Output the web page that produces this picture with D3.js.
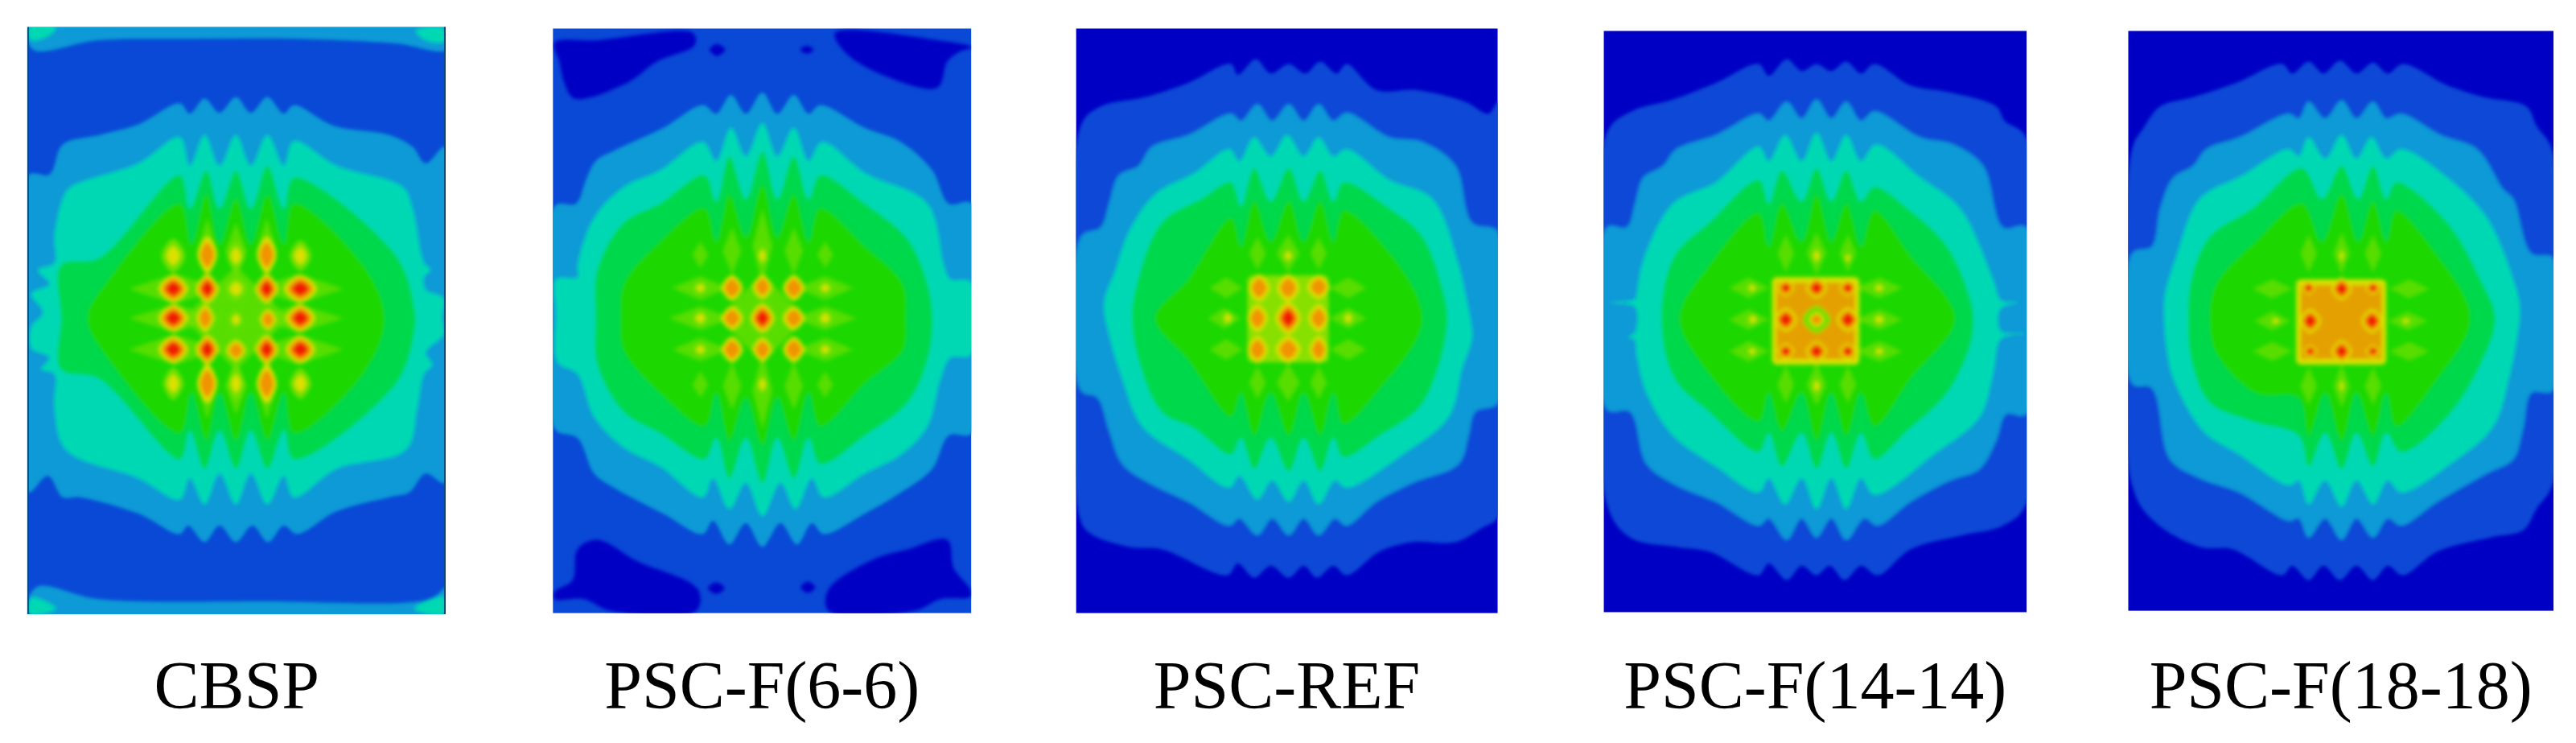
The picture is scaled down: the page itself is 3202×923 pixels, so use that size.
<!DOCTYPE html>
<html>
<head>
<meta charset="utf-8">
<script src="https://cdn.jsdelivr.net/npm/d3@7"></script>
<style>
  body { margin: 0; background: #fff; }
  text { font-family: "Liberation Serif", serif; font-size: 84px; fill: #000; }
</style>
</head>
<body>
<div id="chart"></div>
<script>
const labels = ["CBSP", "PSC-F(6-6)", "PSC-REF", "PSC-F(14-14)", "PSC-F(18-18)"];
const cropLeft = [0, 640, 1280, 1940, 2562];
const frames = [[85, 57, 1350, 1297], [115, 60, 1383, 1295], [140, 60, 1418, 1295], [130, 65, 1412, 1293], [203, 65, 1492, 1290]];
const baseBand = ["blue", "blue", "deep", "deep", "deep"];

const bandColors = { deep: "#0000c4", blue: "#0a48d6", light: "#0a9ad6", teal: "#00d8b4", spring: "#00d84c", green: "#1cd800" };
const spotColors = ["#72e000", "#dce000", "#f09400", "#f01e00"];

// CBSP
const cbspLight = [[85,370],[150,368],[190,305],[300,285],[420,262],[545,218],[575,240],[620,208],[665,238],[715,205],[760,238],[810,205],[860,240],[890,222],[1010,265],[1180,285],[1250,310],[1290,345],[1350,310],[1350,1020],[1290,1000],[1240,1040],[1180,1050],[1020,1080],[900,1128],[860,1110],[812,1145],[765,1110],[715,1145],[665,1110],[620,1145],[570,1110],[545,1128],[420,1085],[240,1050],[190,1050],[145,1005],[85,1040]];
const cbspTeal = [[165,500],[190,420],[215,395],[420,345],[545,290],[575,350],[620,285],[665,350],[715,285],[760,350],[810,285],[860,350],[890,298],[1020,350],[1220,395],[1250,440],[1285,555],[1305,570],[1285,585],[1290,612],[1345,630],[1340,670],[1345,705],[1290,745],[1310,770],[1285,790],[1265,860],[1230,950],[1020,990],[890,1050],[860,1005],[810,1065],[760,1000],[715,1065],[665,1000],[620,1065],[575,1010],[545,1055],[420,1010],[200,950],[165,860],[165,790],[125,780],[150,755],[95,735],[95,690],[130,660],[95,620],[150,600],[115,570],[165,555]];
const cbspSpring = [[185,672],[185,560],[300,545],[545,370],[575,440],[625,360],[665,440],[715,360],[760,440],[810,350],[860,440],[890,375],[1200,540],[1255,650],[1255,700],[1200,810],[890,970],[860,910],[810,990],[760,910],[715,990],[665,910],[620,990],[575,910],[545,970],[300,800],[185,780]];
const cbspGreen = [[265,672],[330,590],[545,430],[580,515],[625,410],[665,515],[715,420],[760,515],[810,410],[860,515],[890,430],[1100,560],[1165,672],[1100,790],[890,915],[860,830],[810,930],[760,830],[715,930],[665,830],[625,930],[580,830],[545,915],[330,760]];
const cbspPatches = [
  ["light", [[85,57],[1355,57],[1355,105],[1200,92],[900,82],[600,82],[300,85],[100,105]]],
  ["light", [[85,1297],[1355,1297],[1355,1240],[1300,1265],[800,1270],[300,1265],[110,1240]]],
  ["teal", [[85,57],[170,57],[150,75],[95,85]]],
  ["teal", [[1260,65],[1345,60],[1345,88],[1290,85]]],
  ["teal", [[95,1262],[170,1285],[90,1297]]],
  ["teal", [[1255,1285],[1345,1260],[1345,1297]]]
];
const cbspLenses = [[530,610,140,32],[530,672,140,30],[530,738,140,32],[905,610,135,32],[905,672,135,30],[905,738,135,32],[628,530,30,70],[715,530,32,60],[808,530,30,70],[628,815,30,70],[715,815,32,60],[808,815,30,70],[715,672,160,110]];
const cbspSpots = [[525,540,42,42,2],[628,538,35,45,3],[715,540,32,36,2],[808,538,35,45,3],[910,540,38,38,2],[525,610,52,34,4],[628,610,40,36,4],[715,610,38,30,2],[808,610,40,36,4],[910,610,58,34,4],[525,672,52,34,4],[622,672,30,34,3],[715,675,25,22,2],[812,675,28,26,3],[910,672,52,34,4],[525,738,52,34,4],[628,738,40,36,4],[715,740,34,26,3],[808,738,40,36,4],[910,738,52,34,4],[525,810,36,40,2],[628,810,36,48,3],[715,810,30,40,2],[808,810,36,48,3],[910,810,38,38,2]];

// PSC-F(6-6)
const f6Light = [[120,435],[185,430],[215,380],[245,340],[310,315],[450,270],[570,222],[610,240],[655,200],[700,240],[750,195],[795,240],[845,200],[890,240],[925,222],[1060,270],[1170,300],[1265,360],[1315,430],[1385,430],[1385,915],[1315,920],[1265,990],[1170,1040],[1060,1085],[935,1128],[900,1105],[855,1150],[805,1105],[750,1155],[700,1105],[650,1150],[600,1100],[570,1128],[450,1085],[300,1030],[240,1000],[190,925],[120,905]];
const f6Teal = [[125,590],[190,585],[190,560],[240,460],[330,395],[440,360],[570,300],[610,340],[655,270],[700,330],[750,260],[795,330],[845,270],[890,340],[930,300],[1060,365],[1250,430],[1300,560],[1320,590],[1380,595],[1380,750],[1320,755],[1290,800],[1250,900],[1170,960],[1060,1000],[935,1050],[900,1010],[850,1075],[805,1020],[750,1090],[700,1020],[650,1075],[600,1010],[570,1050],[440,985],[330,945],[240,880],[190,790],[130,765],[125,660]];
const f6Spring = [[245,672],[250,570],[330,470],[440,430],[575,370],[610,425],[650,330],[700,420],[750,320],[795,420],[845,330],[890,420],[925,370],[1060,430],[1190,505],[1250,600],[1265,672],[1250,760],[1190,850],[1060,920],[925,980],[890,925],[845,1010],[795,925],[750,1020],[700,925],[650,1010],[610,925],[575,970],[440,915],[330,870],[250,770]];
const f6Green = [[320,672],[330,600],[440,510],[575,440],[610,510],[650,410],[700,500],[750,390],[795,500],[845,410],[890,510],[925,440],[1060,520],[1175,600],[1185,672],[1175,740],[1060,810],[925,900],[890,830],[845,930],[795,840],[750,940],[700,840],[650,930],[610,830],[575,900],[440,830],[330,740]];
const f6Patches = [
  ["deep", [[120,90],[250,85],[540,70],[545,95],[430,130],[340,175],[180,208],[150,175],[135,130]]],
  ["deep", [[970,70],[1280,85],[1385,100],[1345,110],[1310,130],[1280,185],[1120,160],[1000,110]]],
  ["deep", [[590,105],[612,93],[637,105],[612,118]]],
  ["deep", [[865,105],[885,97],[905,105],[885,113]]],
  ["deep", [[120,1250],[175,1225],[190,1160],[250,1140],[370,1185],[555,1245],[550,1290],[290,1290],[210,1265],[120,1265]]],
  ["deep", [[950,1245],[1090,1180],[1190,1160],[1310,1140],[1330,1200],[1380,1245],[1380,1260],[1290,1265],[1210,1290],[950,1290]]],
  ["deep", [[585,1242],[610,1230],[635,1242],[610,1254]]],
  ["deep", [[866,1240],[888,1228],[910,1240],[888,1252]]]
];
const f6Lenses = [[562,608,85,25],[562,672,95,25],[562,738,85,25],[940,608,85,25],[940,672,95,25],[940,738,85,25],[562,538,24,28],[658,530,28,50],[750,520,30,80],[845,530,28,50],[940,538,24,28],[562,812,24,28],[658,815,28,50],[750,825,30,80],[845,815,28,50],[940,812,24,28],[750,672,130,95]];
const f6Spots = [[750,540,20,25,2],[562,608,26,16,2],[658,608,38,32,3],[750,606,34,30,3],[845,608,38,32,3],[940,608,26,16,2],[562,672,28,20,2],[658,672,38,30,3],[750,672,42,36,4],[845,672,38,30,3],[940,672,28,20,2],[562,738,26,16,2],[658,738,38,32,3],[750,738,34,30,3],[845,738,38,32,3],[940,738,26,16,2],[750,812,20,25,2]];

// PSC-REF
const refBlue = [[155,265],[215,225],[350,205],[480,175],[610,135],[630,158],[685,125],[730,155],[785,135],[835,155],[880,130],[930,155],[960,135],[1050,190],[1170,190],[1320,215],[1390,240],[1420,215],[1420,1090],[1370,1115],[1290,1145],[1160,1145],[1060,1165],[960,1215],[920,1195],[870,1220],[830,1195],[785,1220],[730,1195],[680,1220],[630,1190],[600,1215],[400,1160],[300,1155],[180,1125],[150,1090]];
const refLight = [[155,500],[215,480],[240,430],[270,370],[330,350],[370,310],[480,285],[610,240],[640,255],[690,220],[735,255],[785,220],[830,255],[875,220],[920,255],[960,238],[1090,290],[1190,300],[1290,350],[1340,470],[1420,490],[1420,850],[1350,870],[1330,920],[1300,980],[1160,1020],[1050,1060],[960,1110],[925,1095],[875,1130],[830,1095],[785,1130],[735,1095],[690,1130],[635,1095],[605,1110],[480,1060],[360,1020],[280,980],[240,910],[205,840],[155,825]];
const refTeal = [[225,640],[260,570],[300,490],[380,410],[500,365],[605,315],[635,340],[680,290],[730,330],[780,285],[830,330],[875,290],[920,330],[960,315],[1090,380],[1220,420],[1300,560],[1320,620],[1335,672],[1340,715],[1310,780],[1270,880],[1130,960],[960,1030],[925,1015],[875,1065],[830,1015],[785,1060],[735,1015],[690,1055],[635,1005],[605,1030],[480,970],[340,900],[280,800],[245,720]];
const refSpring = [[310,672],[325,600],[400,470],[520,420],[610,385],[640,435],[680,355],[730,425],[785,355],[830,425],[880,360],[920,425],[950,385],[1090,440],[1190,500],[1250,610],[1265,672],[1240,770],[1180,860],[1060,920],[950,965],[920,925],[880,995],[830,925],[785,995],[730,925],[680,990],[640,925],[610,960],[500,905],[400,870],[330,760]];
const refGreen = [[380,672],[480,590],[610,460],[640,520],[680,425],[730,510],[785,425],[830,510],[880,425],[920,510],[950,445],[1050,500],[1190,672],[1050,830],[950,895],[920,830],[880,920],[830,830],[785,920],[730,830],[680,920],[640,830],[610,880],[480,760]];
const refLenses = [[595,608,50,22],[590,672,50,22],[595,738,50,22],[965,608,55,22],[965,672,55,22],[965,738,55,22],[690,535,25,35],[783,535,35,40],[875,535,25,35],[690,808,25,35],[783,808,35,40],[875,808,25,35]];
const refPlates = [[660,582,905,765,1]];
const refSpots = [[695,608,38,34,3],[783,608,40,34,3],[875,606,40,30,3],[600,672,22,18,2],[690,672,36,34,3],[783,672,44,40,4],[875,672,36,34,3],[965,672,22,18,2],[690,738,36,34,3],[783,738,44,34,3],[875,738,32,34,3],[783,540,20,18,2]];

// PSC-F(14-14)
const f14Blue = [[140,280],[215,235],[340,210],[470,175],[600,135],[630,160],[685,125],[730,150],[775,135],[820,150],[865,130],[910,155],[950,135],[1060,180],[1180,195],[1320,225],[1345,255],[1410,290],[1410,1065],[1340,1110],[1220,1130],[1060,1160],[960,1215],[910,1195],[860,1225],[815,1195],[775,1215],[730,1195],[685,1225],[630,1190],[600,1215],[450,1165],[350,1155],[210,1135],[140,1065]];
const f14Light = [[140,480],[200,480],[225,430],[250,375],[310,350],[350,315],[470,285],[600,240],[630,255],[685,215],[730,250],[775,210],[820,250],[865,215],[910,255],[950,235],[1090,290],[1190,305],[1280,350],[1340,480],[1410,480],[1410,875],[1350,875],[1320,930],[1270,990],[1180,1015],[1060,1060],[960,1110],[920,1095],[865,1140],[820,1095],[775,1135],[730,1095],[685,1140],[630,1095],[600,1110],[470,1060],[350,1025],[260,980],[210,870],[140,865]];
const f14Teal = [[230,620],[250,550],[340,430],[470,385],[600,310],[630,340],[680,285],[730,340],[775,280],[820,340],[865,285],[910,340],[955,305],[1090,375],[1210,440],[1310,590],[1335,635],[1385,638],[1335,650],[1325,672],[1335,700],[1405,705],[1335,715],[1310,790],[1270,880],[1130,960],[950,1045],[910,1010],[865,1075],[820,1010],[775,1075],[730,1010],[680,1065],[630,1010],[600,1040],[470,985],[340,920],[260,830],[230,750],[225,718],[205,712],[225,702],[225,648],[150,640],[225,632]];
const f14Spring = [[305,672],[345,540],[450,470],[600,380],[630,430],[670,360],[730,425],[775,355],[820,425],[865,360],[910,425],[950,395],[1050,440],[1170,520],[1240,630],[1250,672],[1240,730],[1170,830],[1050,910],[950,970],[910,915],[865,990],[820,915],[775,990],[730,915],[670,985],[630,915],[600,955],[450,870],[345,800]];
const f14Green = [[360,672],[450,560],[600,450],[630,520],[670,430],[730,510],[775,410],[820,510],[865,430],[910,520],[950,445],[1060,540],[1195,672],[1060,800],[950,900],[910,830],[865,920],[820,830],[775,930],[730,830],[670,910],[630,830],[600,890],[450,790]];
const f14Lenses = [[570,608,60,22],[570,675,60,22],[570,742,60,22],[965,608,70,22],[965,675,70,22],[965,742,70,22],[682,535,25,40],[775,535,30,45],[870,535,25,40],[682,812,25,40],[775,812,30,45],[870,812,25,40]];
const f14Plates = [[640,585,905,770,2]];
const f14Spots = [[775,540,18,22,2],[870,545,14,14,2],[580,608,20,12,2],[965,608,22,12,2],[582,675,22,15,2],[965,675,24,15,2],[580,742,20,12,2],[965,742,22,12,2],[775,815,18,22,2],[682,608,30,20,4],[775,608,38,26,4],[870,608,30,20,4],[682,675,40,30,4],[870,675,40,30,4],[682,742,30,20,4],[775,742,38,26,4],[870,742,30,20,4],[775,675,50,34,1],[775,675,26,18,3]];

// PSC-F(18-18)
const f18Blue = [[215,315],[250,270],[300,225],[400,205],[530,175],[670,135],[700,155],[750,130],[795,155],[845,128],[895,155],[945,132],[990,155],[1035,135],[1170,180],[1280,205],[1410,225],[1440,265],[1490,320],[1490,1020],[1440,1075],[1400,1120],[1300,1135],[1140,1165],[1035,1215],[990,1195],[945,1225],[895,1195],[845,1225],[795,1195],[750,1225],[700,1195],[670,1215],[520,1160],[420,1155],[280,1100],[215,1025]];
const f18Light = [[215,535],[275,520],[300,440],[340,375],[400,350],[440,315],[540,290],[690,240],[720,250],[750,215],[800,250],[850,212],[895,250],[945,215],[985,250],[1030,240],[1150,285],[1260,315],[1340,400],[1370,420],[1425,535],[1490,545],[1490,825],[1425,830],[1400,905],[1370,970],[1290,1000],[1140,1060],[1030,1110],[990,1095],[945,1135],[895,1095],[850,1140],[800,1095],[750,1135],[720,1095],[690,1100],[540,1040],[420,1010],[330,970],[275,820],[215,810]];
const f18Teal = [[312,672],[315,620],[350,540],[420,420],[550,370],[690,315],[720,330],[750,290],[800,335],[850,285],[895,335],[940,290],[985,335],[1030,315],[1170,375],[1290,460],[1370,590],[1390,650],[1380,720],[1360,790],[1310,900],[1180,980],[1030,1040],[990,1015],[945,1065],[895,1015],[850,1070],[800,1015],[750,1065],[720,1015],[690,1025],[540,960],[430,910],[340,800],[320,740]];
const f18Spring = [[385,672],[395,590],[450,500],[580,440],[730,355],[790,420],[850,350],[900,420],[945,350],[985,420],[1015,385],[1170,470],[1270,590],[1315,672],[1270,770],[1170,880],[1030,955],[985,915],[945,985],[895,915],[850,990],[800,915],[750,985],[720,920],[580,890],[450,850],[395,760]];
const f18Green = [[450,672],[470,600],[590,510],[730,430],[790,510],[850,410],[900,510],[945,425],[985,510],[1015,445],[1130,530],[1240,672],[1130,810],[1015,900],[985,830],[945,920],[895,830],[850,930],[800,830],[750,920],[720,840],[590,830],[470,745]];
const f18Lenses = [[640,610,60,20],[640,678,55,20],[640,742,60,20],[1055,610,60,20],[1050,678,60,20],[1055,742,60,20],[750,535,25,40],[850,535,25,45],[945,535,25,40],[750,815,25,40],[850,815,25,45],[945,815,25,40]];
const f18Plates = [[712,590,985,770,2]];
const f18Spots = [[850,540,12,20,2],[850,815,12,20,2],[650,678,20,10,2],[1045,678,20,10,2],[750,608,24,16,4],[850,610,36,28,4],[945,608,26,16,4],[755,678,38,30,4],[942,678,38,30,4],[755,742,24,16,4],[850,742,36,28,4],[945,742,26,16,4]];

const bandRings = [
  [["light", cbspLight], ["teal", cbspTeal], ["spring", cbspSpring], ["green", cbspGreen]],
  [["light", f6Light], ["teal", f6Teal], ["spring", f6Spring], ["green", f6Green]],
  [["blue", refBlue], ["light", refLight], ["teal", refTeal], ["spring", refSpring], ["green", refGreen]],
  [["blue", f14Blue], ["light", f14Light], ["teal", f14Teal], ["spring", f14Spring], ["green", f14Green]],
  [["blue", f18Blue], ["light", f18Light], ["teal", f18Teal], ["spring", f18Spring], ["green", f18Green]]
];
const cornerPatches = [cbspPatches, f6Patches, [], [], []];
const lenses = [cbspLenses, f6Lenses, refLenses, f14Lenses, f18Lenses];
const plates = [[], [], refPlates, f14Plates, f18Plates];
const spots = [cbspSpots, f6Spots, refSpots, f14Spots, f18Spots];

const width = 3202, height = 923;

const svg = d3
  .select("#chart")
  .append("svg")
  .attr("width", width)
  .attr("height", height)
  .style("display", "block");

const defs = svg.append("defs");
defs.append("filter").attr("id", "soft")
  .append("feGaussianBlur").attr("stdDeviation", 2);
defs.append("filter").attr("id", "softer")
  .attr("x", "-50%").attr("y", "-50%").attr("width", "200%").attr("height", "200%")
  .append("feGaussianBlur").attr("stdDeviation", 2.6);

const y = d3.scaleLinear().domain([0, 1569]).range([0, height]);

// nested layers of a hot spot, by level: size factor and colour index
const spotLayers = {
  1: [[1, 0]],
  2: [[1, 0], [0.55, 1]],
  3: [[1, 1], [0.7, 2]],
  4: [[1, 1], [0.78, 2], [0.52, 3]]
};
const spotShrink = 0.85;

labels.forEach((label, p) => {
  const x = d3.scaleLinear().domain([0, 1560]).range([cropLeft[p], cropLeft[p] + 640]);
  const [x0, y0, x1, y1] = frames[p];
  const poly = d3.line().x((d) => x(d[0])).y((d) => y(d[1])).curve(d3.curveLinearClosed);
  const round = d3.line().x((d) => x(d[0])).y((d) => y(d[1])).curve(d3.curveCatmullRomClosed.alpha(0.5));
  const blob = d3.line().x((d) => x(d[0])).y((d) => y(d[1])).curve(d3.curveCardinalClosed.tension(0));
  const diamond = (cx, cy, rx, ry) => [[cx - rx, cy], [cx, cy - ry], [cx + rx, cy], [cx, cy + ry]];

  defs.append("clipPath").attr("id", "clip" + p)
    .append("rect")
    .attr("x", x(x0)).attr("y", y(y0))
    .attr("width", x(x1) - x(x0)).attr("height", y(y1) - y(y0));

  const g = svg.append("g").attr("clip-path", `url(#clip${p})`);

  g.append("rect")
    .attr("x", x(x0)).attr("y", y(y0))
    .attr("width", x(x1) - x(x0)).attr("height", y(y1) - y(y0))
    .attr("fill", bandColors[baseBand[p]]);

  const bands = g.append("g").attr("filter", "url(#soft)");
  bands.selectAll("path.patch")
    .data(cornerPatches[p].concat(bandRings[p]))
    .join("path")
    .attr("d", (d) => round(d[1]))
    .attr("fill", (d) => bandColors[d[0]]);

  const hot = g.append("g").attr("filter", "url(#softer)");
  hot.selectAll("path.lens")
    .data(lenses[p])
    .join("path")
    .attr("class", "lens")
    .attr("d", (d) => poly(diamond(d[0], d[1], d[2], d[3])))
    .attr("fill", spotColors[0])
    .attr("opacity", 0.7);

  // plate: the flat hot block in the middle of the later panels
  hot.selectAll("rect.plate")
    .data(plates[p])
    .join("rect")
    .attr("class", "plate")
    .attr("x", (d) => x(d[0])).attr("y", (d) => y(d[1]))
    .attr("width", (d) => x(d[2]) - x(d[0])).attr("height", (d) => y(d[3]) - y(d[1]))
    .attr("rx", 6)
    .attr("fill", (d) => (d[4] > 1 ? "#d8e000" : "#88e000"));
  hot.selectAll("rect.inner")
    .data(plates[p].filter((d) => d[4] > 1))
    .join("rect")
    .attr("class", "inner")
    .attr("x", (d) => x(d[0] + 14)).attr("y", (d) => y(d[1] + 12))
    .attr("width", (d) => x(d[2] - 14) - x(d[0] + 14)).attr("height", (d) => y(d[3] - 12) - y(d[1] + 12))
    .attr("fill", "#e4a000");

  const layers = spots[p].flatMap((s) =>
    spotLayers[s[4]].map(([k, c]) => ({ s, k: k * spotShrink, color: spotColors[c] }))
  );
  hot.selectAll("path.spot")
    .data(layers)
    .join("path")
    .attr("class", "spot")
    .attr("d", (d) => blob(diamond(d.s[0], d.s[1], d.s[2] * d.k, d.s[3] * d.k)))
    .attr("fill", (d) => d.color);

  svg.append("text")
    .attr("x", x((x0 + x1) / 2))
    .attr("y", 880)
    .attr("text-anchor", "middle")
    .text(label);
});

// dark side rules on the first panel
const edgeX = d3.scaleLinear().domain([0, 1560]).range([0, 640]);
svg.selectAll("line.edge")
  .data([85, 1348])
  .join("line")
  .attr("class", "edge")
  .attr("x1", (d) => edgeX(d)).attr("x2", (d) => edgeX(d))
  .attr("y1", y(57)).attr("y2", y(1297))
  .attr("stroke", "#0a4a78")
  .attr("stroke-width", 2);
</script>
</body>
</html>
